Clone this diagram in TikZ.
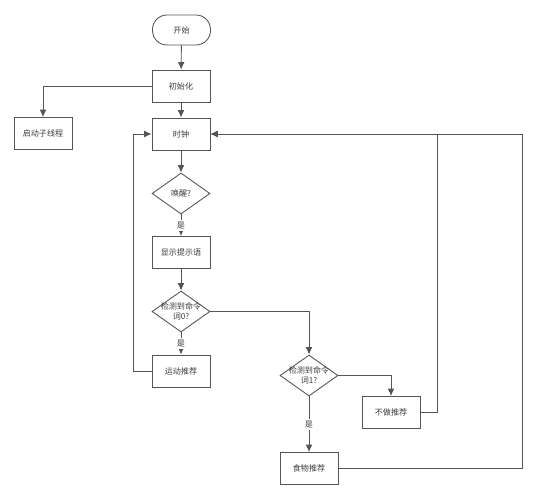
\documentclass[tikz,border=0pt]{standalone}
\usepackage{fontspec}
\setmainfont{Noto Sans CJK SC}
\usetikzlibrary{shapes,arrows,arrows.meta,positioning}
\definecolor{linegray}{RGB}{85,85,85}
\definecolor{textgray}{RGB}{60,60,60}
\tikzset{
    box/.style={draw=linegray, line width=0.5pt, rectangle, minimum width=1.16cm,
        minimum height=0.64cm, inner sep=0pt, text=textgray, font=\fontsize{4.6}{5.6}\selectfont},
    startbox/.style={box, rounded corners=0.29cm, minimum height=0.6cm},
    decision/.style={draw=linegray, line width=0.5pt, diamond, minimum width=1.16cm,
        minimum height=0.82cm, inner sep=0pt},
    dtext/.style={text=textgray, align=center, font=\fontsize{4.6}{5.6}\selectfont},
    flow/.style={draw=linegray, line width=0.5pt, -{Latex[length=4.2pt,width=3.8pt]}},
    yes/.style={fill=white, inner sep=1pt, text=textgray, font=\fontsize{4.6}{5.6}\selectfont}
}
\begin{document}
\begin{tikzpicture}[x=0.02cm, y=-0.02cm]
    \useasboundingbox (0,0) rectangle (537,500);

    % Main column
    \node[startbox] (start) at (181.5,30) {开始};
    \node[box] (init) at (181,86) {初始化};
    \node[box] (sub) at (43,133.5) {启动子线程};
    \node[box] (clock) at (181,134) {时钟};
    \node[decision, label={[dtext]center:唤醒?}] (wake) at (181,193.5) {};
    \node[box] (hint) at (181,252.5) {显示提示语};
    \node[decision, label={[dtext]center:检测到命令\\词0?}] (cmd0) at (181,311.5) {};
    \node[box] (sport) at (181,371) {运动推荐};

    % Right branch
    \node[decision, label={[dtext]center:检测到命令\\词1?}] (cmd1) at (309,375.5) {};
    \node[box] (none) at (391,412.5) {不做推荐};
    \node[box] (food) at (309,468.5) {食物推荐};

    % Arrows
    \draw[flow] (start) -- (init);
    \draw[flow] (init.west) -| (sub.north);
    \draw[flow] (init) -- (clock);
    \draw[flow] (clock) -- (wake);
    \draw[flow] (wake) -- node[yes] {是} (hint);
    \draw[flow] (hint) -- (cmd0);
    \draw[flow] (cmd0) -- node[yes] {是} (sport);
    \draw[flow] (cmd0.east) -| (cmd1.north);
    \draw[flow] (cmd1.east) -| (none.north);
    \draw[flow] (cmd1) -- node[yes] {是} (food);

    % Loops back to the clock
    \draw[flow] (sport.west) -- ++(-18,0) |- (clock.west);
    \draw[flow] (none.east) -- ++(17,0) |- (clock.east);
    \draw[flow] (food.east) -- ++(184,0) |- (clock.east);
\end{tikzpicture}
\end{document}
